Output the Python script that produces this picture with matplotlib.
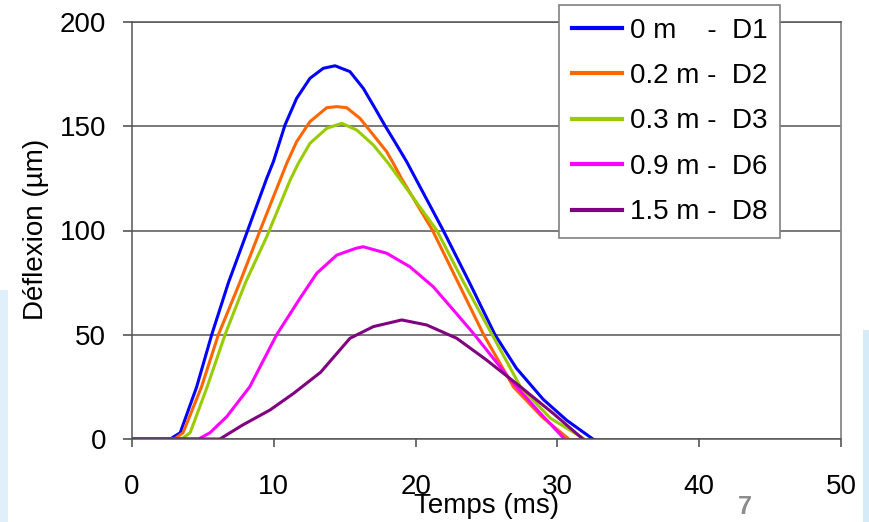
"""
Deflection basins over time for geophones D1..D8 (FWD test).
"""

import matplotlib.pyplot as plt
from matplotlib.patches import Rectangle

# time (ms) / deflection (um)
t_d1 = [0, 2.7, 3.4, 4.56, 5.62, 6.8, 8.1, 9.5, 9.97, 10.79, 11.61, 12.55, 13.49,
        14.32, 15.37, 16.31, 17.14, 17.84, 18.67, 19.37, 21.95, 23.8, 25.6, 27.1,
        29.0, 30.65, 32.5]
d1 = [0, 0, 3, 25, 50, 75, 99, 125, 133, 150.6, 163.4, 173, 177.8,
      179, 176.2, 168.2, 158.6, 150.3, 141, 133, 100, 75, 50, 34,
      19, 9, 0]

t_d2 = [0, 3.0, 3.6, 4.9, 6.09, 7.6, 9.03, 10.91, 11.61, 12.55, 13.73, 14.44,
        15.14, 16.08, 17.02, 17.96, 18.43, 19.0, 21.2, 23.0, 24.8, 26.9, 28.9, 30.8]
d2 = [0, 0, 3, 25, 50, 75, 100, 132.2, 142.6, 152.2, 158.9, 159.4,
      158.9, 153.8, 145.8, 137.8, 132.2, 125, 100, 75, 50, 25, 10.7, 0]

t_d3 = [0, 3.5, 4.1, 5.3, 6.56, 8.0, 9.5, 11.14, 11.73, 12.55, 13.73, 14.79,
        15.85, 17.02, 18.08, 21.5, 23.4, 25.4, 27.4, 29.5, 31.9]
d3 = [0, 0, 3, 25, 50, 75, 97, 124, 132.2, 141.8, 149, 151.4,
      148.2, 141, 132.2, 100, 75, 50, 25, 10, 0]

t_d6 = [0, 4.7, 5.5, 6.68, 8.3, 10.2, 11.85, 13.03, 14.44, 15.8, 16.31, 17.96,
        19.6, 21.25, 22.66, 24.07, 26.7, 28.8, 30.5]
d6 = [0, 0, 3, 10.7, 25, 50, 67.5, 79.5, 88.2, 91.5, 92.2, 89.1,
      82.6, 73, 61.9, 50.7, 28.3, 12.3, 0]

t_d8 = [0, 6.2, 7.8, 9.73, 11.4, 13.3, 15.37, 17.02, 19.02, 20.78, 22.9, 25.0,
        27.4, 29.7, 31.8]
d8 = [0, 0, 6.7, 13.9, 21.9, 32, 48.3, 53.9, 57.1, 54.7, 48.3, 37.9,
      25, 12.3, 0]

labels = ["0 m    -  D1", "0.2 m -  D2", "0.3 m -  D3", "0.9 m -  D6", "1.5 m -  D8"]
colors = ["#0000ff", "#ff6600", "#99cc00", "#ff00ff", "#800080"]

x_ticks = [0, 10, 20, 30, 40, 50]
y_ticks = [0, 50, 100, 150, 200]

plt.rcParams["font.family"] = ["Liberation Sans", "DejaVu Sans"]

W, H = 869, 522
fig = plt.figure(figsize=(W / 100, H / 100), dpi=100)
fig.patch.set_facecolor("white")

# slide background bits at the edges
fig.patches.append(Rectangle((0, 0), 8 / W, (H - 290) / H, transform=fig.transFigure,
                             facecolor="#e0f0fa", edgecolor="none", zorder=0))
fig.patches.append(Rectangle((863 / W, 0), 6 / W, (H - 330) / H, transform=fig.transFigure,
                             facecolor="#d6ebf8", edgecolor="none", zorder=0))

ax = fig.add_axes([132 / W, (H - 439) / H, (841 - 132) / W, (439 - 22) / H])

series = [(t_d1, d1), (t_d2, d2), (t_d3, d3), (t_d6, d6), (t_d8, d8)]
for (t, d), lab, col in zip(series, labels, colors):
    ax.plot(t, d, color=col, linewidth=2.2, label=lab, solid_joinstyle="round")

ax.set_xlim(0, 50)
ax.set_ylim(0, 200)
ax.set_xticks(x_ticks)
ax.set_yticks(y_ticks)
ax.tick_params(axis="x", direction="out", length=6, width=1.2, color="#555555",
               labelsize=20, pad=19)
ax.tick_params(axis="y", direction="out", length=6.5, width=1.2, color="#555555",
               labelsize=20, pad=12)
ax.yaxis.grid(True, color="#555555", linewidth=1.1)
ax.set_axisbelow(True)
for side in ["left", "bottom", "top"]:
    ax.spines[side].set_color("#555555")
    ax.spines[side].set_linewidth(1.1)
ax.spines["right"].set_color("#888888")
ax.spines["right"].set_linewidth(1.3)

fig.text(486.5 / W, 1 - 513 / H, "Temps (ms)", fontsize=20, ha="center", va="baseline")
fig.text(42.7 / W, 1 - 229 / H, "Déflexion (µm)", fontsize=20, rotation=90,
         rotation_mode="anchor", ha="center", va="baseline")

leg = ax.legend(loc="upper left", bbox_to_anchor=(559 / W, 1 - 5 / H),
                bbox_transform=fig.transFigure, borderaxespad=0, fontsize=20,
                handlelength=1.83, handletextpad=0.28, borderpad=0.45,
                labelspacing=0.7, fancybox=False, framealpha=1)
leg.get_frame().set_edgecolor("#808080")
leg.get_frame().set_linewidth(1.2)
for line in leg.get_lines():
    line.set_linewidth(3)

# slide page number
fig.text(745 / W, 1 - 507 / H, "7", fontsize=18, fontweight="bold", color="#8c8c8c",
         ha="center", va="center")

fig.savefig("out.png", dpi=100)
